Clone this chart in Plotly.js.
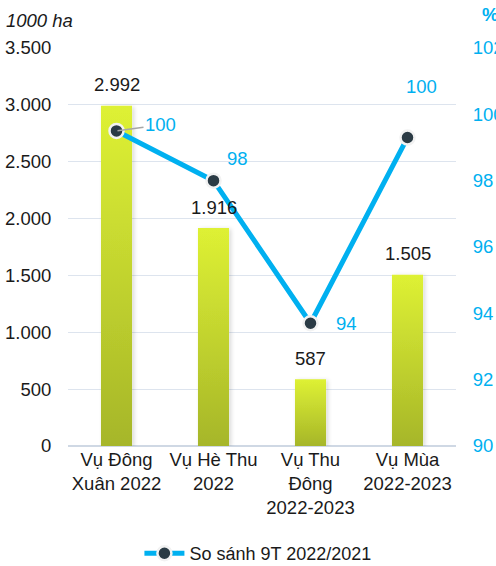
<!DOCTYPE html>
<html>
<head>
<meta charset="utf-8">
<script src="https://cdn.plot.ly/plotly-3.0.1.min.js"></script>
<style>html,body{margin:0;padding:0;background:#fff;}#chart{width:496px;height:566px;}</style>
</head>
<body>
<div id="chart"></div>
<script>
const categories = ["Vụ Đông<br>Xuân 2022", "Vụ Hè Thu<br>2022", "Vụ Thu<br>Đông<br>2022-2023", "Vụ Mùa<br>2022-2023"];
const areaValues = [2992, 1916, 587, 1505];
const compareValues = [99.5, 98.0, 93.7, 99.3];
const compareLabels = ["100", "98", "94", "100"];
const leftTicks = [0, 500, 1000, 1500, 2000, 2500, 3000, 3500];
const rightTicks = [90, 92, 94, 96, 98, 100, 102];
const seriesName = "So sánh 9T 2022/2021";

const FONT = "Liberation Sans, Arial, sans-serif";
const FS = 18.5;
const CYAN = "#00b0f0";
const fmt = v => v.toString().replace(/\B(?=(\d{3})+(?!\d))/g, ".");

const bars = {
  type: "bar", x: categories, y: areaValues, yaxis: "y",
  width: 0.32, marker: {color: "#c6d92f", line: {width: 0}},
  showlegend: false, hoverinfo: "none"
};
const line = {
  type: "scatter", mode: "lines+markers", x: categories, y: compareValues, yaxis: "y2",
  name: seriesName,
  line: {color: CYAN, width: 5},
  marker: {color: "#2b3b45", size: 14, line: {color: "#f2f2f2", width: 2.5}},
  cliponaxis: false, hoverinfo: "none"
};

const annotations = [];
areaValues.forEach((v, i) => {
  annotations.push({x: categories[i], y: v, xref: "x", yref: "y", text: fmt(v), showarrow: false,
    yshift: 21, font: {family: FONT, size: FS, color: "#1a1a1a"}});
});
const lineOffsets = [[0, 0], [24, 22], [36, 0], [14, 51]];
compareValues.forEach((v, i) => {
  if (i === 0) {
    annotations.push({x: categories[i], y: v, xref: "x", yref: "y2", text: compareLabels[i],
      showarrow: true, arrowhead: 0, arrowwidth: 1.5, arrowcolor: "#a6a6a6", ax: 44, ay: -6, standoff: 1,
      font: {family: FONT, size: FS, color: CYAN}});
  } else {
    annotations.push({x: categories[i], y: v, xref: "x", yref: "y2", text: compareLabels[i], showarrow: false,
      xshift: lineOffsets[i][0], yshift: lineOffsets[i][1], font: {family: FONT, size: FS, color: CYAN}});
  }
});
annotations.push({xref: "paper", yref: "paper", x: -0.166, y: 1.07, xanchor: "left", yanchor: "middle",
  text: "<i>1000 ha</i>", showarrow: false, font: {family: FONT, size: FS, color: "#1a1a1a"}});
annotations.push({xref: "paper", yref: "paper", x: 1.062, y: 1.085, xanchor: "left", yanchor: "middle",
  text: "<b>%</b>", showarrow: false, font: {family: FONT, size: FS, color: CYAN}});

const layout = {
  width: 496, height: 566,
  margin: {l: 68, r: 40, t: 48, b: 120},
  paper_bgcolor: "#fff", plot_bgcolor: "#fff",
  separators: ",.",
  font: {family: FONT, size: FS, color: "#1a1a1a"},
  xaxis: {type: "category", showgrid: false, zeroline: false, showline: false,
    ticks: "", tickfont: {family: FONT, size: FS, color: "#1a1a1a"}, fixedrange: true},
  yaxis: {range: [0, 3500], tickvals: leftTicks, ticktext: leftTicks.map(fmt),
    showgrid: true, gridcolor: "#dde4ee", gridwidth: 1, zeroline: true, zerolinecolor: "#cfd8e4", zerolinewidth: 2,
    showline: false, ticks: "outside", ticklen: 12, tickcolor: "rgba(0,0,0,0)",
    tickfont: {family: FONT, size: FS, color: "#1a1a1a"}, fixedrange: true},
  yaxis2: {range: [90, 102], tickvals: rightTicks, overlaying: "y", side: "right",
    showgrid: false, zeroline: false, showline: false, ticks: "outside", ticklen: 12, tickcolor: "rgba(0,0,0,0)",
    tickfont: {family: FONT, size: FS, color: CYAN}, fixedrange: true},
  showlegend: true,
  legend: {orientation: "h", x: 0.52, xanchor: "center", xref: "container", y: 0.022, yref: "container", yanchor: "middle",
    itemwidth: 40, font: {family: FONT, size: 18, color: "#1a1a1a"}},
  annotations: annotations
};

Plotly.newPlot("chart", [bars, line], layout, {displayModeBar: false, staticPlot: true}).then(() => {
  const svg = document.querySelector("#chart .main-svg");
  let defs = svg.querySelector("defs");
  const ns = "http://www.w3.org/2000/svg";
  const grad = document.createElementNS(ns, "linearGradient");
  grad.setAttribute("id", "barGrad");
  grad.setAttribute("x1", "0"); grad.setAttribute("y1", "0");
  grad.setAttribute("x2", "0"); grad.setAttribute("y2", "1");
  [["0%", "#def134"], ["100%", "#a6b629"]].forEach(([o, c]) => {
    const s = document.createElementNS(ns, "stop");
    s.setAttribute("offset", o); s.setAttribute("stop-color", c);
    grad.appendChild(s);
  });
  const filt = document.createElementNS(ns, "filter");
  filt.setAttribute("id", "barShadow");
  filt.setAttribute("x", "-30%"); filt.setAttribute("y", "-10%");
  filt.setAttribute("width", "160%"); filt.setAttribute("height", "120%");
  filt.innerHTML = '<feDropShadow dx="2" dy="1" stdDeviation="2" flood-color="#000" flood-opacity="0.15"/>';
  defs.appendChild(grad);
  defs.appendChild(filt);
  document.querySelectorAll("#chart .barlayer .point path").forEach(p => {
    p.style.fill = "url(#barGrad)";
    p.setAttribute("filter", "url(#barShadow)");
  });
});
</script>
</body>
</html>
